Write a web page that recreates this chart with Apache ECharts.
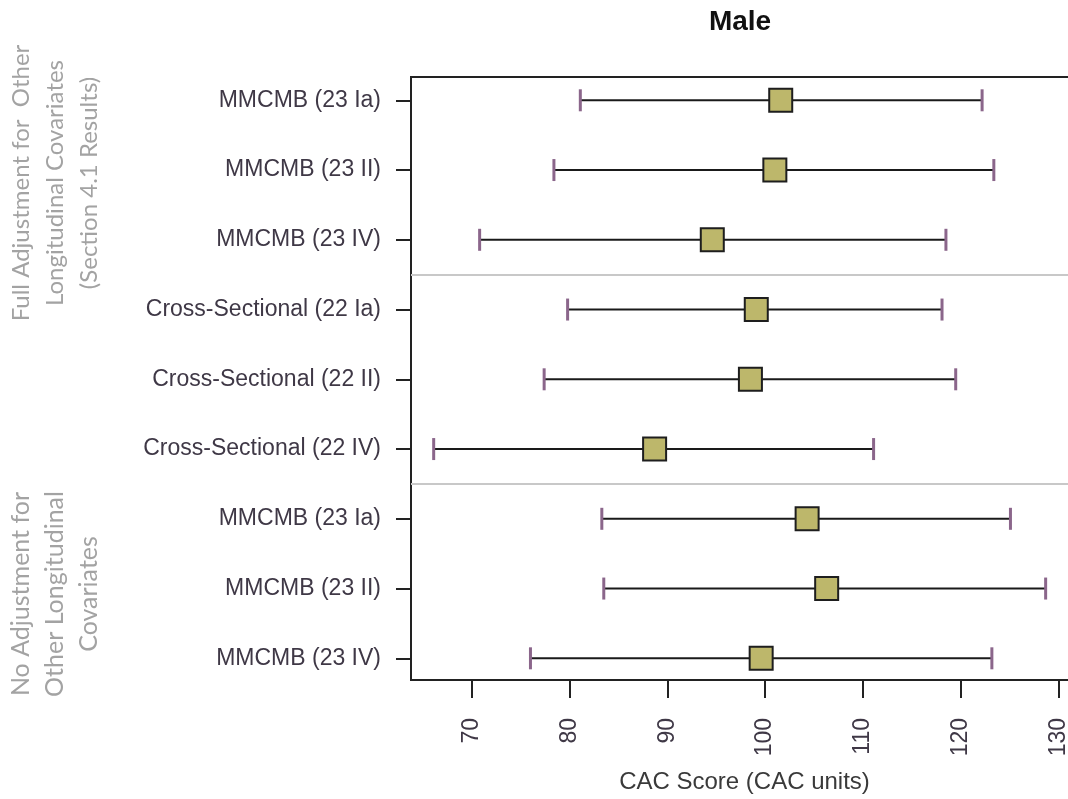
<!DOCTYPE html>
<html>
<head>
<meta charset="utf-8">
<title>Male – CAC Score</title>
<script src="https://cdn.jsdelivr.net/npm/echarts@6/dist/echarts.min.js"></script>
<style>
  html, body { margin: 0; padding: 0; background: #fff; overflow: hidden; }
  /* the plot frame runs past the right edge of the window */
  #chart { width: 1100px; height: 799px; }
</style>
</head>
<body>
<div id="chart"></div>
<script>
// Model labels, top to bottom
const categories = [
  'MMCMB (23 Ia)', 'MMCMB (23 II)', 'MMCMB (23 IV)',
  'Cross-Sectional (22 Ia)', 'Cross-Sectional (22 II)', 'Cross-Sectional (22 IV)',
  'MMCMB (23 Ia)', 'MMCMB (23 II)', 'MMCMB (23 IV)'
];
// Point estimates and interval bounds (CAC units)
const estimates = [101.6, 101.0, 94.6, 99.1, 98.5, 88.7, 104.3, 106.3, 99.6];
const lower     = [81.1, 78.4, 70.8, 79.8, 77.4, 66.1, 83.3, 83.5, 76.0];
const upper     = [122.2, 123.4, 118.5, 118.1, 119.5, 111.1, 125.1, 128.7, 123.2];
// Axis ticks
const xTicks = [70, 80, 90, 100, 110, 120, 130];
// Section divider positions (between rows)
const dividers = [3.5, 6.5];
// Section captions
const groupFull = ['Full Adjustment for  Other', 'Longitudinal Covariates', '(Section 4.1 Results)'];
const groupNone = ['No Adjustment for', 'Other Longitudinal', 'Covariates'];

const rows = categories.map((_, i) => i + 1);
const intervalData = rows.map((r, i) => [lower[i], upper[i], r]);
const pointData = rows.map((r, i) => [estimates[i], r]);

const labelColor = '#3f3846';
const sectionColor = '#a3a3a3';
const sans = '"Liberation Sans", Arial, sans-serif';

const chart = echarts.init(document.getElementById('chart'), null, { renderer: 'canvas' });

chart.setOption({
  animation: false,
  backgroundColor: '#ffffff',
  grid: {
    left: 411, top: 77, width: 667, height: 603,
    show: true, borderColor: '#222', borderWidth: 2, backgroundColor: 'transparent'
  },
  xAxis: {
    type: 'value',
    min: 63.78, max: 132.01,
    name: 'CAC Score (CAC units)',
    nameLocation: 'middle',
    nameGap: 90,
    nameTextStyle: { color: '#3a3a3a', fontSize: 24, fontFamily: sans },
    axisLine: { show: true, lineStyle: { color: '#222', width: 2 } },
    axisTick: { show: true, customValues: xTicks, length: 18, lineStyle: { color: '#222', width: 2 } },
    axisLabel: {
      customValues: xTicks, rotate: 90, margin: 38,
      color: labelColor, fontSize: 23, fontFamily: sans
    },
    splitLine: { show: false }
  },
  yAxis: {
    type: 'value',
    inverse: true,
    min: 0.666, max: 9.311,
    axisLine: { show: true, lineStyle: { color: '#222', width: 2 } },
    axisTick: { show: true, customValues: rows, length: 15, lineStyle: { color: '#222', width: 2 } },
    axisLabel: {
      customValues: rows, margin: 30,
      formatter: v => categories[Math.round(v) - 1],
      color: labelColor, fontSize: 23, fontFamily: sans
    },
    splitLine: { show: false }
  },
  graphic: [
    {
      type: 'text', position: [740, 22],
      style: {
        text: 'Male', align: 'center', verticalAlign: 'middle',
        fill: '#111', font: 'bold 28px "Liberation Sans", Arial, sans-serif'
      }
    },
    {
      type: 'text', position: [55, 183], rotation: Math.PI / 2,
      style: {
        text: groupFull.join('\n'), align: 'center', verticalAlign: 'middle',
        fill: sectionColor, font: '24px Lato, "Open Sans", sans-serif', lineHeight: 34
      }
    },
    {
      type: 'text', position: [55, 594], rotation: Math.PI / 2,
      style: {
        text: groupNone.join('\n'), align: 'center', verticalAlign: 'middle',
        fill: sectionColor, font: '25px Lato, "Open Sans", sans-serif', lineHeight: 34
      }
    }
  ],
  series: [
    {
      type: 'custom',
      name: 'interval',
      renderItem: (params, api) => {
        const lo = api.coord([api.value(0), api.value(2)]);
        const hi = api.coord([api.value(1), api.value(2)]);
        const half = 11;
        return {
          type: 'group',
          children: [
            { type: 'line', shape: { x1: lo[0], y1: lo[1], x2: hi[0], y2: hi[1] },
              style: { stroke: '#1a1a1a', lineWidth: 2 } },
            { type: 'line', shape: { x1: lo[0], y1: lo[1] - half, x2: lo[0], y2: lo[1] + half },
              style: { stroke: '#8b668b', lineWidth: 3 } },
            { type: 'line', shape: { x1: hi[0], y1: hi[1] - half, x2: hi[0], y2: hi[1] + half },
              style: { stroke: '#8b668b', lineWidth: 3 } }
          ]
        };
      },
      encode: { x: [0, 1], y: 2 },
      data: intervalData,
      z: 2,
      markLine: {
        silent: true, symbol: ['none', 'none'], label: { show: false },
        lineStyle: { color: '#c8c8c8', width: 2, type: 'solid' },
        data: dividers.map(d => ({ yAxis: d }))
      }
    },
    {
      type: 'scatter',
      name: 'estimate',
      symbol: 'rect',
      symbolSize: 23,
      itemStyle: { color: '#bdb76b', borderColor: '#1e1e1e', borderWidth: 2, opacity: 1 },
      data: pointData,
      z: 3
    }
  ]
});
</script>
</body>
</html>
